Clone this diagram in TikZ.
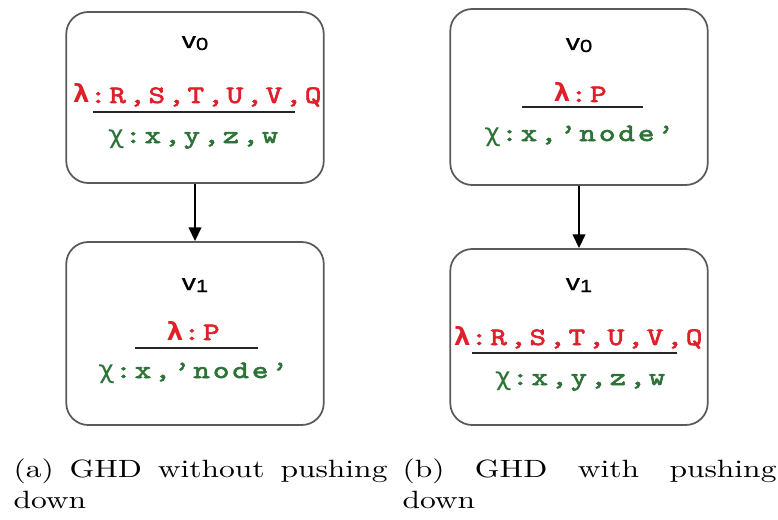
\documentclass[tikz,border=0pt]{standalone}
\usepackage{fontspec}
\setmainfont{lmroman10-regular.otf}[FakeStretch=1.26]
\newfontfamily\labelfont{Liberation Sans}[FakeStretch=1.26,FakeBold=0.8]
\newfontfamily\codefont{lmmono10-regular.otf}[FakeStretch=1.26,FakeBold=2.5,LetterSpace=12]
\newfontfamily\greekfont{DejaVu Sans Mono}[FakeStretch=1.15]
\usetikzlibrary{arrows.meta}

\definecolor{lamred}{RGB}{222,32,42}
\definecolor{chigreen}{RGB}{45,115,55}
\definecolor{boxgray}{RGB}{90,90,90}

\newcommand{\lamsym}{{\greekfont\bfseries λ}}
\newcommand{\chisym}{{\greekfont χ}}
\newcommand{\vname}[1]{v\raisebox{-0.8pt}{\fontsize{7}{7}\selectfont #1}}

\begin{document}
\begin{tikzpicture}[x=0.4pt, y=-0.4pt,
  gbox/.style={draw=boxgray, line width=0.7pt, rounded corners=8.8pt, minimum width=103pt, inner sep=0pt},
  vlabel/.style={anchor=base, inner sep=0pt, font=\labelfont\fontsize{9}{9}\selectfont},
  lamtext/.style={anchor=base, inner sep=0pt, text=lamred, font=\codefont\fontsize{10}{10}\selectfont},
  chitext/.style={lamtext, text=chigreen},
  fracbar/.style={line width=0.8pt, draw=black!85},
  edge/.style={-{Triangle[length=5.5pt,width=5pt]}, line width=0.85pt},
  caption/.style={anchor=base west, inner sep=0pt, text width=149.6pt, align=justify, font=\fontsize{10}{12.4}\selectfont\tolerance 10000}]
\useasboundingbox (0,0) rectangle (778,519);

% (a) GHD without pushing down
\node[gbox, minimum height=68.4pt] (a0) at (195,97.5) {};
\node[vlabel] (a0name) at (195,48) {\vname{0}};
\node[lamtext] (a0lam) at (197,103) {\lamsym:R,S,T,U,V,Q};
\draw[fracbar] (93,112) -- (295,112);
\node[chitext] (a0chi) at (193,143) {\chisym:x,y,z,w};

\node[gbox, minimum height=73.2pt] (a1) at (195,333.5) {};
\node[vlabel] (a1name) at (195,290) {\vname{1}};
\node[lamtext] (a1lam) at (193,340) {\lamsym:P};
\draw[fracbar] (135,348) -- (258,348);
\node[chitext] (a1chi) at (193,378) {\chisym:x,’node’};

\draw[edge] (a0) -- (a1);

% (b) GHD with pushing down
\node[gbox, minimum height=70.4pt] (b0) at (579,97) {};
\node[vlabel] (b0name) at (579,50) {\vname{0}};
\node[lamtext] (b0lam) at (580,102) {\lamsym:P};
\draw[fracbar] (522,107) -- (643,107);
\node[chitext] (b0chi) at (579,141) {\chisym:x,’node’};

\node[gbox, minimum height=70.4pt] (b1) at (579,337) {};
\node[vlabel] (b1name) at (579,290) {\vname{1}};
\node[lamtext] (b1lam) at (578,345) {\lamsym:R,S,T,U,V,Q};
\draw[fracbar] (472,353) -- (677,353);
\node[chitext] (b1chi) at (580,385) {\chisym:x,y,z,w};

\draw[edge] (b0) -- (b1);

% captions
\node[caption] (capa) at (13,477) {(a) GHD without pushing down};
\node[caption] (capb) at (402,477) {(b) GHD with pushing down};
\end{tikzpicture}
\end{document}
